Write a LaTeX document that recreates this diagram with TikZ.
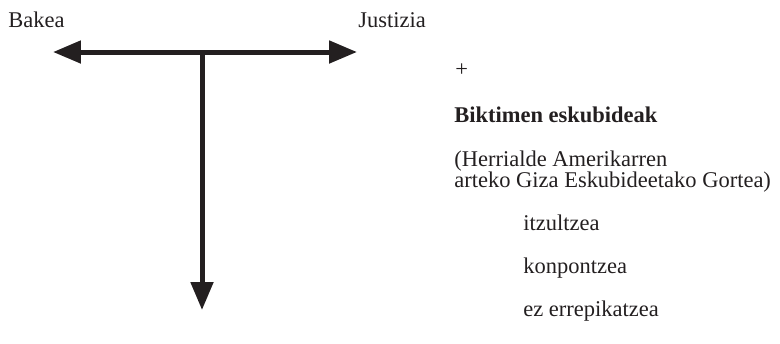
\documentclass[tikz,border=0pt]{standalone}
\usepackage{fontspec}
\setmainfont{Liberation Serif}
\usetikzlibrary{arrows.meta}

\definecolor{ink}{HTML}{231F20}
\tikzset{
  label/.style={inner sep=0pt, anchor=base west, text=ink, font=\fontsize{12.8}{15}\selectfont},
  bigarrow/.style={draw=ink, line width=0.1cm, -{Triangle[length=0.56cm,width=0.44cm]}}
}

\begin{document}
\begin{tikzpicture}[x=0.02cm, y=-0.02cm]
    \useasboundingbox (0,0) rectangle (780,343);

    % the T of arrows
    \coordinate (mid) at (202,52);
    \coordinate (left) at (53,52);
    \coordinate (right) at (357,52);
    \coordinate (down) at (202,310);
    \draw[bigarrow] (mid) -- (left);
    \draw[bigarrow] (mid) -- (right);
    \draw[bigarrow] (mid) -- (down);

    \node[label] (bakea) at (8,27) {Bakea};
    \node[label] (justizia) at (358,27) {Justizia};

    % right column
    \node[label] (plus) at (455,76) {+};
    \node[label,font=\fontsize{12.8}{15}\selectfont\bfseries] (biktimak) at (454,122) {Biktimen eskubideak};
    \node[label] (herrialde) at (454,166) {(Herrialde Amerikarren};
    \node[label] (gortea) at (454,187) {arteko Giza Eskubideetako Gortea)};

    \node[label] (itzul) at (523,230) {itzultzea};
    \node[label] (konpon) at (523,273) {konpontzea};
    \node[label] (ezerrep) at (523,316) {ez errepikatzea};
  \end{tikzpicture}
\end{document}
